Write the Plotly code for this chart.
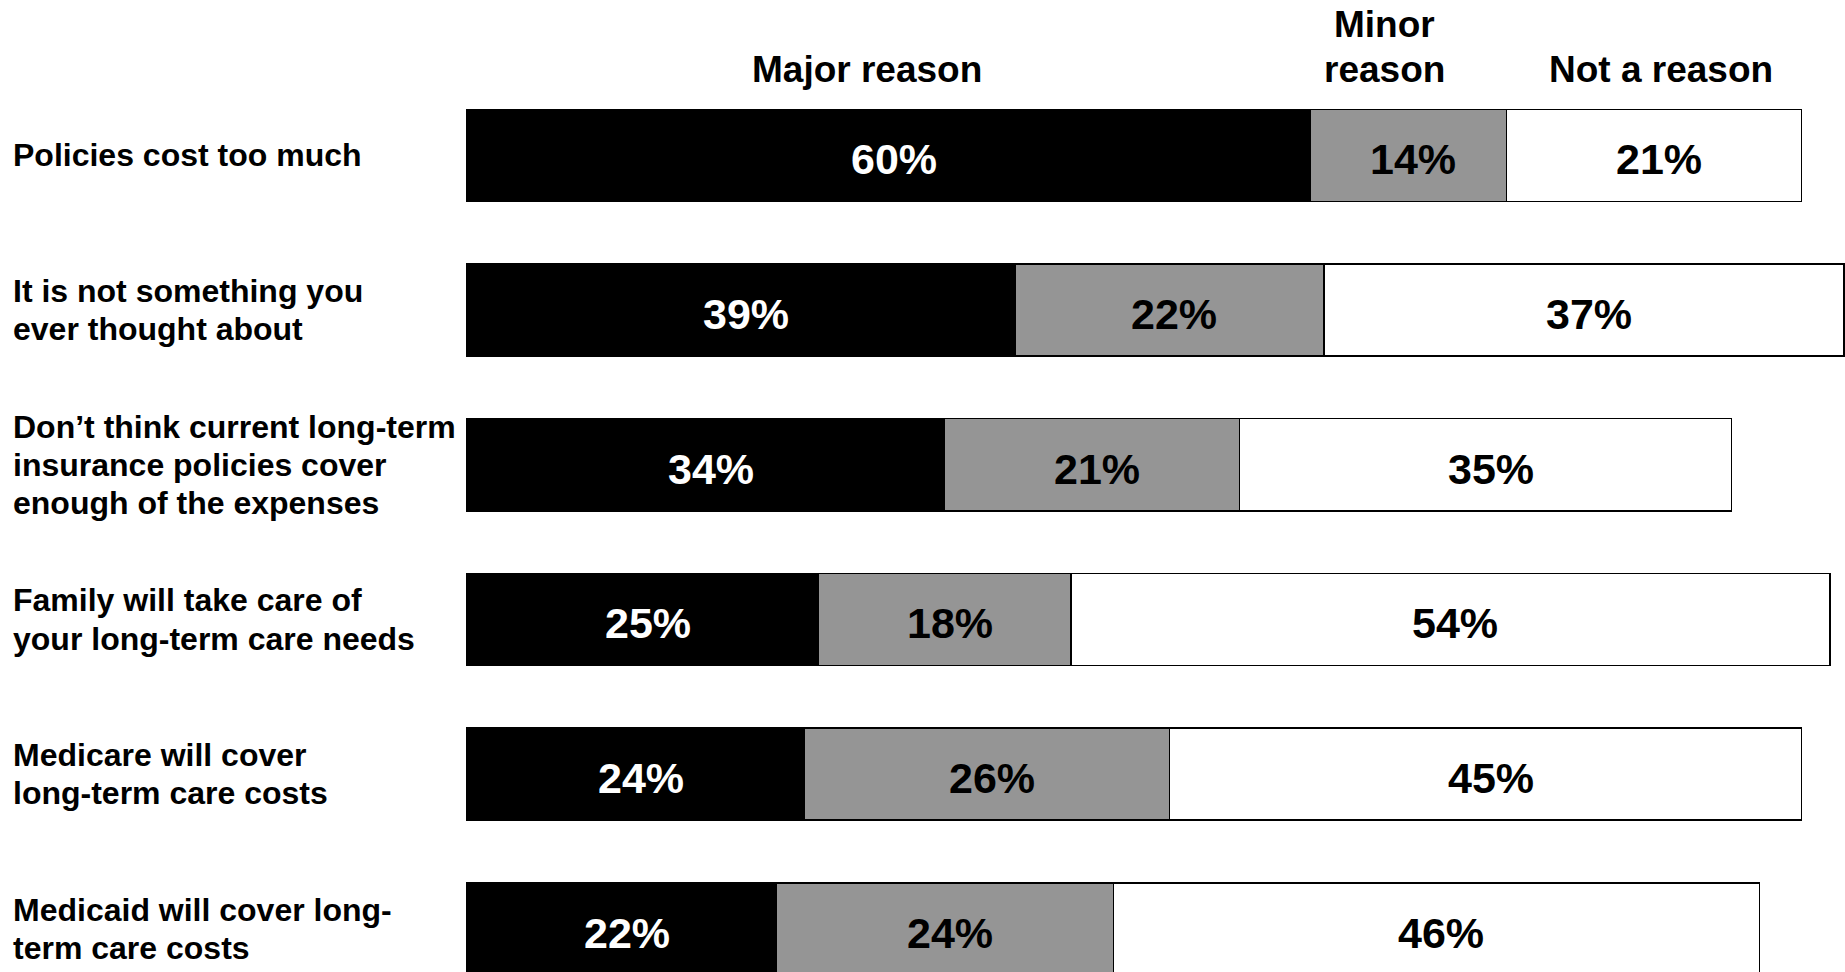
import plotly.graph_objects as go

# Datos del gráfico:
categorias = [
    'Policies cost too much',
    'It is not something you<br>ever thought about',
    'Don’t think current long-term<br>insurance policies cover<br>enough of the expenses',
    'Family will take care of<br>your long-term care needs',
    'Medicare will cover<br>long-term care costs',
    'Medicaid will cover long-<br>term care costs',
]
major_reason = [60, 39, 34, 25, 24, 22]
minor_reason = [14, 22, 21, 18, 26, 24]
not_a_reason = [21, 37, 35, 54, 45, 46]

series = ['Major reason', 'Minor<br>reason', 'Not a reason']
valores = [major_reason, minor_reason, not_a_reason]
colores = ['#000000', '#959595', '#ffffff']
colores_texto = ['#ffffff', '#000000', '#000000']

fuente = 'Liberation Sans, Arial, sans-serif'

# Inicializar el gráfico:
fig = go.Figure()

posiciones = list(range(len(categorias)))

for nombre, vals, color in zip(series, valores, colores):
    fig.add_trace(
        go.Bar(
            x           = vals,
            y           = posiciones,
            orientation = 'h',
            name        = nombre,
            width       = 0.595,
            marker      = dict(color=color, line=dict(color='#000000', width=1.5)),
            hoverinfo   = 'skip',
        )
    )


def lineas(texto, x, y, interlineado, tamano, xanchor):
    '''Genera una anotación por línea para controlar el interlineado'''
    partes = texto.split('<br>')
    n = len(partes)
    salida = []
    for k, parte in enumerate(partes):
        salida.append(dict(
            text      = parte,
            x         = x,
            y         = y,
            xref      = 'x',
            yref      = 'y',
            xanchor   = xanchor,
            yanchor   = 'middle',
            yshift    = -(k - (n - 1) / 2) * interlineado,
            showarrow = False,
            font      = dict(family=fuente, size=tamano, color='#000000', weight='bold'),
        ))
    return salida


anotaciones = []

# Etiquetas de porcentaje, centradas en cada segmento:
inicio = [0] * len(categorias)
for vals, color_texto in zip(valores, colores_texto):
    for i, v in enumerate(vals):
        anotaciones.append(dict(
            text      = f'{v}%',
            x         = inicio[i] + v / 2,
            y         = i,
            xref      = 'x',
            yref      = 'y',
            xanchor   = 'center',
            yanchor   = 'middle',
            xshift    = 5,
            yshift    = -4,
            showarrow = False,
            font      = dict(family=fuente, size=43, color=color_texto, weight='bold'),
        ))
        inicio[i] += v

# Etiquetas de las categorías (alineadas a la izquierda):
for i, cat in enumerate(categorias):
    anotaciones += lineas(cat, -32.45, i, 38.2, 32, 'left')

# Encabezados de las series:
encabezados_x = [28.5, 65.3, 85.0]
encabezados_y = [-0.558, -0.70, -0.558]
for nombre, xh, yh in zip(series, encabezados_x, encabezados_y):
    anotaciones += lineas(nombre, xh, yh, 44.7, 37, 'center')

# Configuración de los ejes:
xaxis = dict(
    range          = [-33.24, 98.08],
    visible        = False,
    showgrid       = False,
    zeroline       = False,
    fixedrange     = True,
)
yaxis = dict(
    range          = [5.279, -1.004],
    visible        = False,
    showgrid       = False,
    zeroline       = False,
    fixedrange     = True,
)

fig.update_layout(
    barmode       = 'stack',
    xaxis         = xaxis,
    yaxis         = yaxis,
    annotations   = anotaciones,
    showlegend    = False,
    width         = 1845,
    height        = 972,
    margin        = dict(l=0, r=0, t=0, b=0),
    paper_bgcolor = '#ffffff',
    plot_bgcolor  = '#ffffff',
    font          = dict(family=fuente),
)

fig.write_html(
    'out.html',
    config      = {'displayModeBar': False},
    post_script = "document.body.style.margin='0';document.body.style.overflow='hidden';",
)
